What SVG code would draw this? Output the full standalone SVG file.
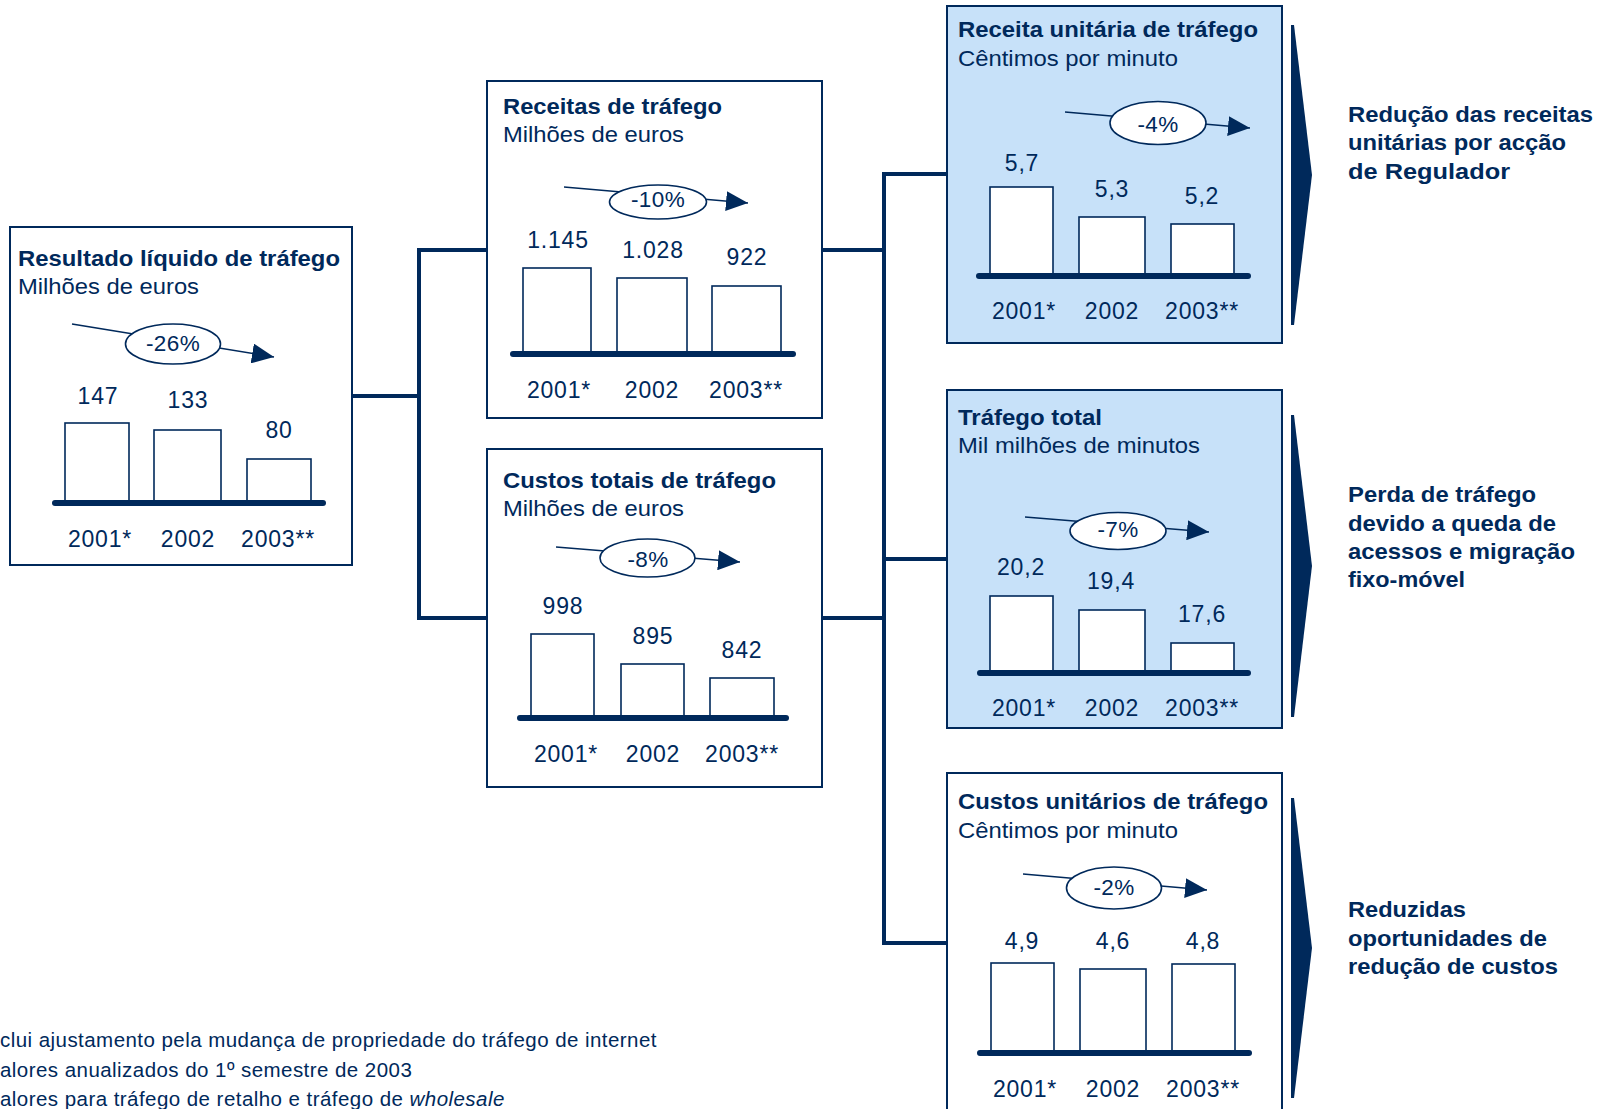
<svg xmlns="http://www.w3.org/2000/svg" width="1610" height="1109" viewBox="0 0 1610 1109">
  <defs>
    <style>
      text { font-family: "Liberation Sans", Arial, sans-serif; fill: #00295b; }
      .box { fill: #ffffff; stroke: #00295b; stroke-width: 2; }
      .blue { fill: #c7e1f9; }
      .ttl { font-weight: bold; font-size: 22px; }
      .sub { font-size: 21.5px; }
      .num { font-size: 23px; letter-spacing: 0.8px; text-anchor: middle; }
      .pct { font-size: 22.5px; letter-spacing: 0.4px; text-anchor: middle; }
      .bar { fill: #ffffff; stroke: #00295b; stroke-width: 1.6; }
      .axis { stroke: #00295b; stroke-width: 6; stroke-linecap: round; }
      .trend { stroke: #00295b; stroke-width: 1.6; fill: none; marker-end: url(#head); }
      .oval { fill: #ffffff; stroke: #00295b; stroke-width: 1.6; }
      .conn { stroke: #00295b; stroke-width: 4; fill: none; }
      .chev { fill: #00295b; }
      .side { font-weight: bold; font-size: 22px; }
      .note { font-size: 20.5px; letter-spacing: 0.45px; }
    </style>
    <marker id="head" markerUnits="userSpaceOnUse" viewBox="0 0 22 20" markerWidth="22" markerHeight="20" refX="22" refY="10" orient="auto">
      <path d="M0,0 L22,10 L0,20 z" fill="#00295b"/>
    </marker>
  </defs>

  <rect width="1610" height="1109" fill="#ffffff"/>

  <!-- connectors between the boxes -->
  <g id="connectors">
    <path class="conn" d="M352,396 H419"/>
    <path class="conn" d="M487,250 H419 V618 H487"/>
    <path class="conn" d="M822,250 H884"/>
    <path class="conn" d="M822,618 H884"/>
    <path class="conn" d="M947,174 H884 V943 H947"/>
    <path class="conn" d="M884,559 H947"/>
  </g>

  <!-- net traffic result -->
  <g id="resultado">
    <rect class="box" x="10" y="227" width="342" height="338"/>
    <text class="ttl" x="18" y="266" textLength="322" lengthAdjust="spacingAndGlyphs">Resultado líquido de tráfego</text>
    <text class="sub" x="18" y="294" textLength="181" lengthAdjust="spacingAndGlyphs">Milhões de euros</text>
    <line class="trend" x1="72" y1="324" x2="274" y2="357"/>
    <ellipse class="oval" cx="173" cy="344" rx="47.5" ry="20"/>
    <text class="pct" x="173" y="351">-26%</text>
    <rect class="bar" x="65" y="423" width="64" height="80"/>
    <rect class="bar" x="154" y="430" width="67" height="73"/>
    <rect class="bar" x="247" y="459" width="64" height="44"/>
    <line class="axis" x1="55" y1="503" x2="323" y2="503"/>
    <text class="num" x="98" y="404">147</text>
    <text class="num" x="188" y="408">133</text>
    <text class="num" x="279" y="438">80</text>
    <text class="num" x="100" y="547">2001*</text>
    <text class="num" x="188" y="547">2002</text>
    <text class="num" x="278" y="547">2003**</text>
  </g>

  <!-- traffic revenue -->
  <g id="receitas">
    <rect class="box" x="487" y="81" width="335" height="337"/>
    <text class="ttl" x="503" y="114" textLength="219" lengthAdjust="spacingAndGlyphs">Receitas de tráfego</text>
    <text class="sub" x="503" y="142" textLength="181" lengthAdjust="spacingAndGlyphs">Milhões de euros</text>
    <line class="trend" x1="564" y1="187" x2="748" y2="203"/>
    <ellipse class="oval" cx="658" cy="202" rx="48.5" ry="17"/>
    <text class="pct" x="658" y="207">-10%</text>
    <rect class="bar" x="523" y="268" width="68" height="86"/>
    <rect class="bar" x="617" y="278" width="70" height="76"/>
    <rect class="bar" x="712" y="286" width="69" height="68"/>
    <line class="axis" x1="513" y1="354" x2="793" y2="354"/>
    <text class="num" x="558" y="248">1.145</text>
    <text class="num" x="653" y="258">1.028</text>
    <text class="num" x="747" y="265">922</text>
    <text class="num" x="559" y="398">2001*</text>
    <text class="num" x="652" y="398">2002</text>
    <text class="num" x="746" y="398">2003**</text>
  </g>

  <!-- total traffic costs -->
  <g id="custos-totais">
    <rect class="box" x="487" y="449" width="335" height="338"/>
    <text class="ttl" x="503" y="488" textLength="273" lengthAdjust="spacingAndGlyphs">Custos totais de tráfego</text>
    <text class="sub" x="503" y="516" textLength="181" lengthAdjust="spacingAndGlyphs">Milhões de euros</text>
    <line class="trend" x1="556" y1="547" x2="740" y2="562"/>
    <ellipse class="oval" cx="647.5" cy="558" rx="47.5" ry="19"/>
    <text class="pct" x="648" y="567">-8%</text>
    <rect class="bar" x="531" y="634" width="63" height="84"/>
    <rect class="bar" x="621" y="664" width="63" height="54"/>
    <rect class="bar" x="710" y="678" width="64" height="40"/>
    <line class="axis" x1="520" y1="718" x2="786" y2="718"/>
    <text class="num" x="563" y="614">998</text>
    <text class="num" x="653" y="644">895</text>
    <text class="num" x="742" y="658">842</text>
    <text class="num" x="566" y="762">2001*</text>
    <text class="num" x="653" y="762">2002</text>
    <text class="num" x="742" y="762">2003**</text>
  </g>

  <!-- unit traffic revenue -->
  <g id="receita-unitaria">
    <rect class="box blue" x="947" y="6" width="335" height="337"/>
    <text class="ttl" x="958" y="37" textLength="300" lengthAdjust="spacingAndGlyphs">Receita unitária de tráfego</text>
    <text class="sub" x="958" y="66" textLength="220" lengthAdjust="spacingAndGlyphs">Cêntimos por minuto</text>
    <line class="trend" x1="1065" y1="112" x2="1250" y2="128"/>
    <ellipse class="oval" cx="1158" cy="123" rx="48" ry="21.5"/>
    <text class="pct" x="1158" y="132">-4%</text>
    <rect class="bar" x="990" y="187" width="63" height="89"/>
    <rect class="bar" x="1079" y="217" width="66" height="59"/>
    <rect class="bar" x="1171" y="224" width="63" height="52"/>
    <line class="axis" x1="979" y1="276" x2="1248" y2="276"/>
    <text class="num" x="1022" y="171">5,7</text>
    <text class="num" x="1112" y="197">5,3</text>
    <text class="num" x="1202" y="204">5,2</text>
    <text class="num" x="1024" y="319">2001*</text>
    <text class="num" x="1112" y="319">2002</text>
    <text class="num" x="1202" y="319">2003**</text>
  </g>

  <!-- total traffic -->
  <g id="trafego-total">
    <rect class="box blue" x="947" y="390" width="335" height="338"/>
    <text class="ttl" x="958" y="425" textLength="144" lengthAdjust="spacingAndGlyphs">Tráfego total</text>
    <text class="sub" x="958" y="453" textLength="242" lengthAdjust="spacingAndGlyphs">Mil milhões de minutos</text>
    <line class="trend" x1="1025" y1="517" x2="1209" y2="532"/>
    <ellipse class="oval" cx="1118" cy="531" rx="48" ry="18.5"/>
    <text class="pct" x="1118" y="537">-7%</text>
    <rect class="bar" x="990" y="596" width="63" height="77"/>
    <rect class="bar" x="1079" y="610" width="66" height="63"/>
    <rect class="bar" x="1171" y="643" width="63" height="30"/>
    <line class="axis" x1="980" y1="673" x2="1248" y2="673"/>
    <text class="num" x="1021" y="575">20,2</text>
    <text class="num" x="1111" y="589">19,4</text>
    <text class="num" x="1202" y="622">17,6</text>
    <text class="num" x="1024" y="716">2001*</text>
    <text class="num" x="1112" y="716">2002</text>
    <text class="num" x="1202" y="716">2003**</text>
  </g>

  <!-- unit traffic costs -->
  <g id="custos-unitarios">
    <rect class="box" x="947" y="773" width="335" height="350"/>
    <text class="ttl" x="958" y="809" textLength="310" lengthAdjust="spacingAndGlyphs">Custos unitários de tráfego</text>
    <text class="sub" x="958" y="838" textLength="220" lengthAdjust="spacingAndGlyphs">Cêntimos por minuto</text>
    <line class="trend" x1="1023" y1="874" x2="1207" y2="890"/>
    <ellipse class="oval" cx="1114" cy="888" rx="47.5" ry="21"/>
    <text class="pct" x="1114" y="895">-2%</text>
    <rect class="bar" x="991" y="963" width="63" height="90"/>
    <rect class="bar" x="1080" y="969" width="66" height="84"/>
    <rect class="bar" x="1172" y="964" width="63" height="89"/>
    <line class="axis" x1="980" y1="1053" x2="1249" y2="1053"/>
    <text class="num" x="1022" y="949">4,9</text>
    <text class="num" x="1113" y="949">4,6</text>
    <text class="num" x="1203" y="949">4,8</text>
    <text class="num" x="1025" y="1097">2001*</text>
    <text class="num" x="1113" y="1097">2002</text>
    <text class="num" x="1203" y="1097">2003**</text>
  </g>

  <!-- conclusions -->
  <g id="conclusao-receita">
    <polygon class="chev" points="1291,25 1294,25 1312,175 1294,325 1291,325"/>
    <text class="side" x="1348" y="122" textLength="245" lengthAdjust="spacingAndGlyphs">Redução das receitas</text>
    <text class="side" x="1348" y="150" textLength="218" lengthAdjust="spacingAndGlyphs">unitárias por acção</text>
    <text class="side" x="1348" y="179" textLength="162" lengthAdjust="spacingAndGlyphs">de Regulador</text>
  </g>
  <g id="conclusao-trafego">
    <polygon class="chev" points="1291,415 1294,415 1312,566 1294,717 1291,717"/>
    <text class="side" x="1348" y="502" textLength="188" lengthAdjust="spacingAndGlyphs">Perda de tráfego</text>
    <text class="side" x="1348" y="531" textLength="208" lengthAdjust="spacingAndGlyphs">devido a queda de</text>
    <text class="side" x="1348" y="559" textLength="227" lengthAdjust="spacingAndGlyphs">acessos e migração</text>
    <text class="side" x="1348" y="587" textLength="117" lengthAdjust="spacingAndGlyphs">fixo-móvel</text>
  </g>
  <g id="conclusao-custos">
    <polygon class="chev" points="1291,798 1294,798 1312,948 1294,1098 1291,1098"/>
    <text class="side" x="1348" y="917" textLength="118" lengthAdjust="spacingAndGlyphs">Reduzidas</text>
    <text class="side" x="1348" y="946" textLength="199" lengthAdjust="spacingAndGlyphs">oportunidades de</text>
    <text class="side" x="1348" y="974" textLength="210" lengthAdjust="spacingAndGlyphs">redução de custos</text>
  </g>

  <!-- footnotes -->
  <g id="notas">
    <text class="note" x="0" y="1047">clui ajustamento pela mudança de propriedade do tráfego de internet</text>
    <text class="note" x="0" y="1077">alores anualizados do 1º semestre de 2003</text>
    <text class="note" x="0" y="1106">alores para tráfego de retalho e tráfego de <tspan font-style="italic">wholesale</tspan></text>
  </g>
</svg>
